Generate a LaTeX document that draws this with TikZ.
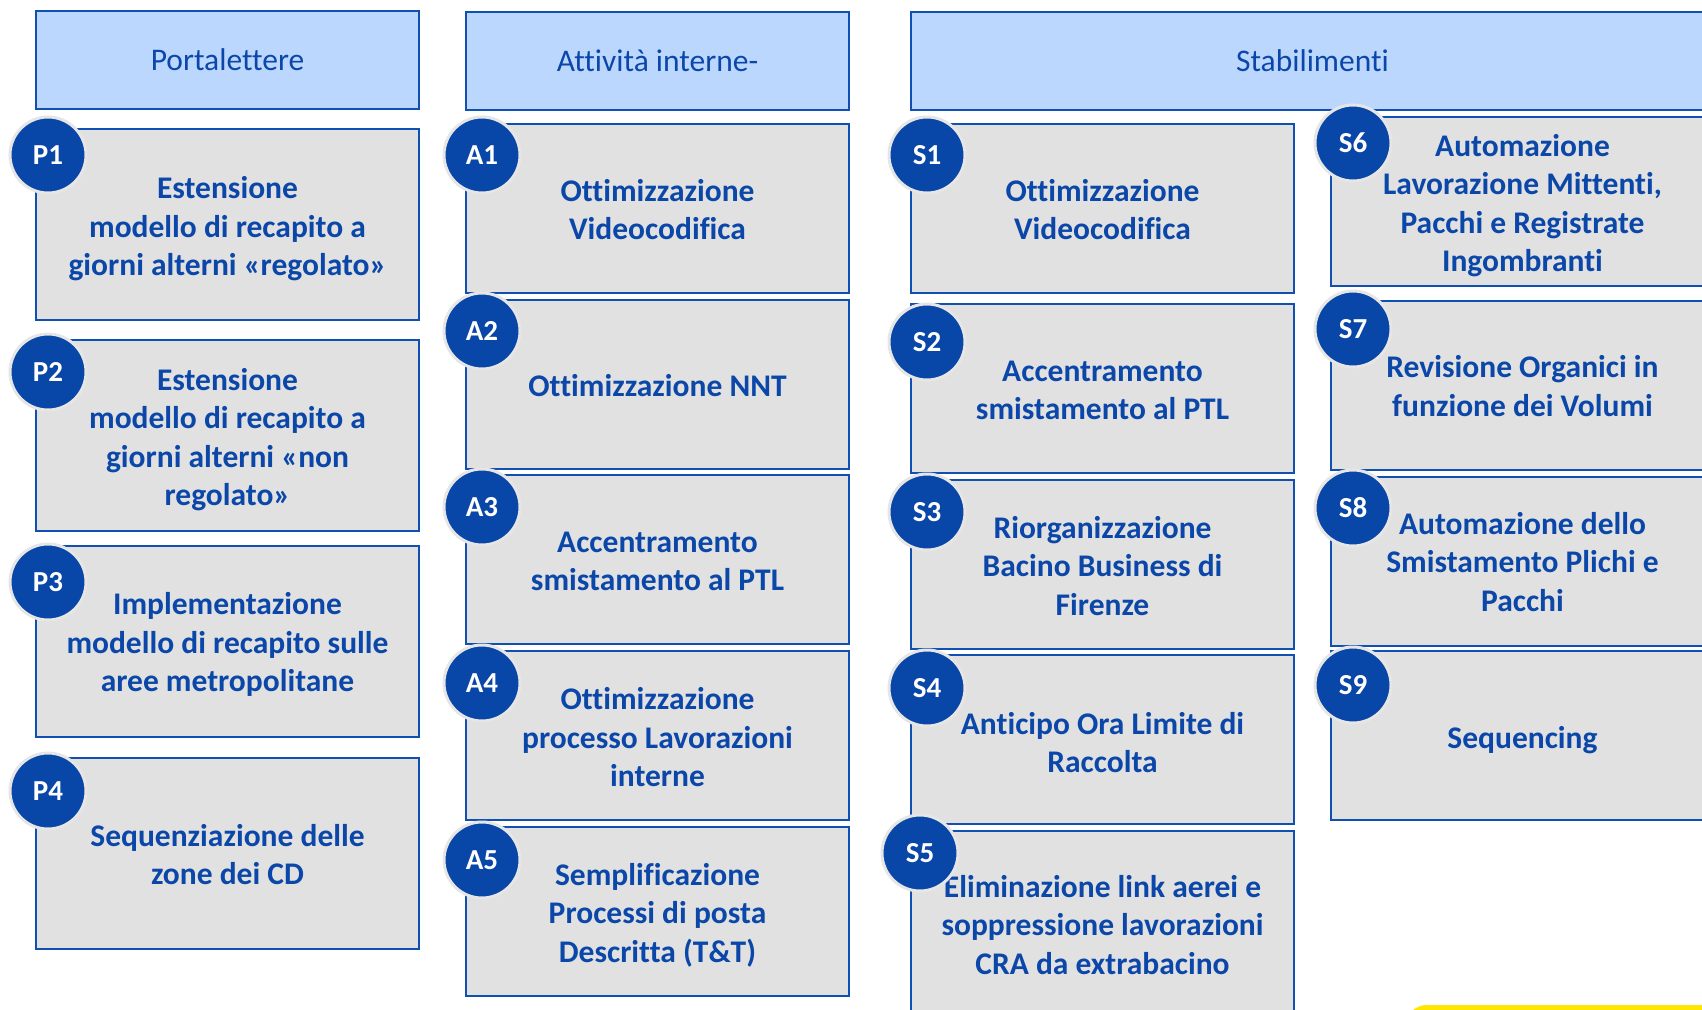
\documentclass[tikz,border=0pt]{standalone}
\usepackage{fontspec}
\setmainfont{Carlito}[Ligatures=NoCommon]
\definecolor{txtblue}{HTML}{0B47A8}
\definecolor{bdr}{HTML}{1050B0}
\definecolor{boxfill}{HTML}{E1E1E1}
\definecolor{hdrfill}{HTML}{BCD7FE}
\definecolor{badgefill}{HTML}{0846A8}
\definecolor{badgering}{HTML}{E6E6E6}
\definecolor{yel}{HTML}{FFE600}
\begin{document}
\begin{tikzpicture}[x=1pt,y=-1pt,
  hdr/.style={draw=bdr, fill=hdrfill, line width=2pt, text=txtblue,
    font=\fontsize{31.5}{38}\selectfont, align=center, inner sep=0pt},
  card/.style={draw=bdr, fill=boxfill, line width=2pt, inner sep=0pt,
    minimum width=383pt},
  cardA/.style={card, minimum height=169pt},
  cardP/.style={card, minimum height=191pt},
  lbl/.style={text=txtblue, font=\bfseries\fontsize{31.5}{38.5}\selectfont,
    align=center, inner sep=0pt},
  badge/.style={circle, fill=badgefill, draw=badgering, line width=3pt,
    minimum size=76pt, inner sep=0pt, text=white,
    font=\bfseries\fontsize{29}{34}\selectfont}
]
\useasboundingbox (0,0) rectangle (1702,1009);
\clip (0,0) rectangle (1702,1009);

% headers
\node[hdr, minimum width=383pt, minimum height=98pt] (hp) at (227.5,60) {Portalettere};
\node[hdr, minimum width=383pt, minimum height=98pt] (ha) at (657.5,61) {Attività interne-};
\node[hdr, minimum width=803pt, minimum height=98pt] (hs) at (1312.5,61) {Stabilimenti};

% column P
\node[cardP] (p1) at (227.5,224.5) {};
\node[cardP] (p2) at (227.5,435.5) {};
\node[cardP] (p3) at (227.5,641.5) {};
\node[cardP] (p4) at (227.5,853.5) {};
\node[lbl] (p1t) at ([yshift=-4.3pt]p1.center) {Estensione\\modello di recapito a\\giorni alterni «regolato»};
\node[lbl] (p2t) at ([yshift=-4.3pt]p2.center) {Estensione\\modello di recapito a\\giorni alterni «non\\regolato»};
\node[lbl] (p3t) at ([yshift=-3.3pt]p3.center) {Implementazione\\modello di recapito sulle\\aree metropolitane};
\node[lbl] (p4t) at ([yshift=-1pt]p4.center) {Sequenziazione delle\\zone dei CD};

% column A
\node[cardA] (a1) at (657.5,208.5) {};
\node[cardA] (a2) at (657.5,384) {};
\node[cardA] (a3) at (657.5,559.5) {};
\node[cardA] (a4) at (657.5,735.5) {};
\node[cardA] (a5) at (657.5,911) {};
\node[lbl] (a1t) at ([yshift=-1pt]a1.center) {Ottimizzazione\\Videocodifica};
\node[lbl] (a2t) at ([yshift=-2pt]a2.center) {Ottimizzazione NNT};
\node[lbl] (a3t) at ([yshift=-2pt]a3.center) {Accentramento\\smistamento al PTL};
\node[lbl] (a4t) at ([yshift=-2pt]a4.center) {Ottimizzazione\\processo Lavorazioni\\interne};
\node[lbl] (a5t) at ([yshift=-4.3pt]a5.center) {Semplificazione\\Processi di posta\\Descritta (T\&T)};

% column S (left)
\node[cardA] (s1) at (1102.5,208.5) {};
\node[cardA] (s2) at (1102.5,388.5) {};
\node[cardA] (s3) at (1102.5,564) {};
\node[cardA] (s4) at (1102.5,739.5) {};
\node[card, minimum height=186pt] (s5) at (1102.5,924) {};
\node[lbl] (s1t) at ([yshift=-1pt]s1.center) {Ottimizzazione\\Videocodifica};
\node[lbl] (s2t) at ([yshift=-2pt]s2.center) {Accentramento\\smistamento al PTL};
\node[lbl] (s3t) at ([yshift=-2pt]s3.center) {Riorganizzazione\\Bacino Business di\\Firenze};
\node[lbl] (s4t) at ([yshift=-3.3pt]s4.center) {Anticipo Ora Limite di\\Raccolta};
\node[lbl] (s5t) at ([yshift=-1pt]s5.center) {Eliminazione link aerei e\\soppressione lavorazioni\\CRA da extrabacino};

% column S (right)
\node[cardA] (s6) at (1522.5,201.5) {};
\node[cardA] (s7) at (1522.5,385) {};
\node[cardA] (s8) at (1522.5,561) {};
\node[cardA] (s9) at (1522.5,735.5) {};
\node[lbl] (s6t) at ([yshift=-4.3pt]s6.center) {Automazione\\Lavorazione Mittenti,\\Pacchi e Registrate\\Ingombranti};
\node[lbl] (s7t) at ([yshift=-1pt]s7.center) {Revisione Organici in\\funzione dei Volumi};
\node[lbl] (s8t) at ([yshift=-1pt]s8.center) {Automazione dello\\Smistamento Plichi e\\Pacchi};
\node[lbl] (s9t) at ([yshift=-4.3pt]s9.center) {Sequencing};

% badges
\node[badge] (bp1) at (48,155) {P1};
\node[badge] (bp2) at (48,372) {P2};
\node[badge] (bp3) at (48,582) {P3};
\node[badge] (bp4) at (48,791) {P4};
\node[badge] (ba1) at (482,155) {A1};
\node[badge] (ba2) at (482,331) {A2};
\node[badge] (ba3) at (482,507) {A3};
\node[badge] (ba4) at (482,683) {A4};
\node[badge] (ba5) at (482,860) {A5};
\node[badge] (bs1) at (927,155) {S1};
\node[badge] (bs2) at (927,342) {S2};
\node[badge] (bs3) at (927,512) {S3};
\node[badge] (bs4) at (927,688) {S4};
\node[badge] (bs5) at (920,853) {S5};
\node[badge] (bs6) at (1353,143) {S6};
\node[badge] (bs7) at (1353,329) {S7};
\node[badge] (bs8) at (1353,508) {S8};
\node[badge] (bs9) at (1353,685) {S9};

% yellow shape at bottom right
\fill[yel, rounded corners=22pt] (1405,1005) rectangle (1780,1080);
\end{tikzpicture}
\end{document}
